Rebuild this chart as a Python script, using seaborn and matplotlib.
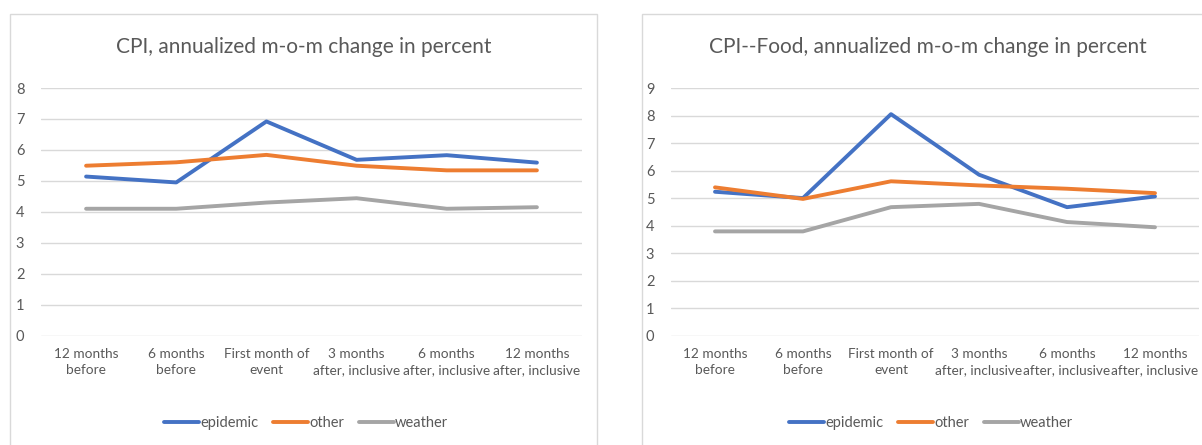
import numpy as np
import matplotlib
matplotlib.use("Agg")
import matplotlib.pyplot as plt
import seaborn as sns
import pandas as pd
from matplotlib.patches import Rectangle

# data
periods = ['12 months\nbefore', '6 months\nbefore', 'First month of\nevent',
           '3 months\nafter, inclusive', '6 months\nafter, inclusive', '12 months\nafter, inclusive']
series = ['epidemic', 'other', 'weather']

cpi_epidemic = [5.14, 4.95, 6.92, 5.68, 5.83, 5.59]
cpi_other = [5.49, 5.60, 5.84, 5.49, 5.34, 5.34]
cpi_weather = [4.10, 4.10, 4.30, 4.44, 4.10, 4.15]

food_epidemic = [5.23, 5.00, 8.05, 5.85, 4.67, 5.06]
food_other = [5.39, 4.97, 5.61, 5.46, 5.34, 5.18]
food_weather = [3.79, 3.79, 4.67, 4.79, 4.13, 3.94]

titles = ['CPI, annualized m-o-m change in percent',
          'CPI--Food, annualized m-o-m change in percent']

sns.set_style("white")
plt.rcParams['font.family'] = ['Lato', 'DejaVu Sans']
txt = '#595959'
colors = {'epidemic': '#4472C4', 'other': '#ED7D31', 'weather': '#A5A5A5'}


def make_df(ep, ot, we):
    rows = []
    for name, vals in zip(series, [ep, ot, we]):
        for p, v in zip(periods, vals):
            rows.append({'period': p, 'series': name, 'value': v})
    return pd.DataFrame(rows)


W, H = 1202, 445
fig = plt.figure(figsize=(W / 100, H / 100), dpi=100)

# chart panel borders
for x0, x1 in [(10, 597), (641.5, 1230)]:
    fig.patches.append(Rectangle((x0 / W, -0.05), (x1 - x0) / W, (H - 14) / H + 0.05,
                                 transform=fig.transFigure, fill=False,
                                 edgecolor='#D9D9D9', linewidth=1.0))

panels = [
    (41, 582, 8, make_df(cpi_epidemic, cpi_other, cpi_weather), titles[0], 304, 306),
    (671, 1199, 9, make_df(food_epidemic, food_other, food_weather), titles[1], 928, 931),
]

for x0, x1, ymax, df, title, tx, lx in panels:
    top, bot = 88, 335.7
    ax = fig.add_axes([x0 / W, (H - bot) / H, (x1 - x0) / W, (bot - top) / H])
    sns.lineplot(data=df, x='period', y='value', hue='series', palette=colors,
                 linewidth=2.8, ax=ax, legend=False, sort=False)
    ax.set_xlim(-0.5, 5.5)
    ax.set_ylim(0, ymax)
    ax.set_yticks(range(0, ymax + 1))
    ax.yaxis.grid(True, color='#D9D9D9', linewidth=1.0)
    ax.set_axisbelow(True)
    for s in ax.spines.values():
        s.set_visible(False)
    ax.tick_params(length=0, colors=txt, labelsize=9.8)
    ax.tick_params(axis='y', pad=12, labelsize=10.5)
    ax.tick_params(axis='x', pad=9)
    ax.set_xticks(range(len(periods)))
    ax.set_xticklabels(periods, linespacing=1.4)
    ax.set_xlabel('')
    ax.set_ylabel('')
    fig.text(tx / W, (H - 47) / H, title, ha='center', va='center', fontsize=15, color=txt)
    handles = [plt.Line2D([], [], color=colors[s], linewidth=2.8) for s in series]
    fig.legend(handles, series, loc='center', bbox_to_anchor=(lx / W, (H - 423) / H),
               ncol=3, frameon=False, handlelength=2.4, handletextpad=0.1,
               columnspacing=1.0, fontsize=10.5, labelcolor=txt)

fig.savefig('out.png', dpi=100)
